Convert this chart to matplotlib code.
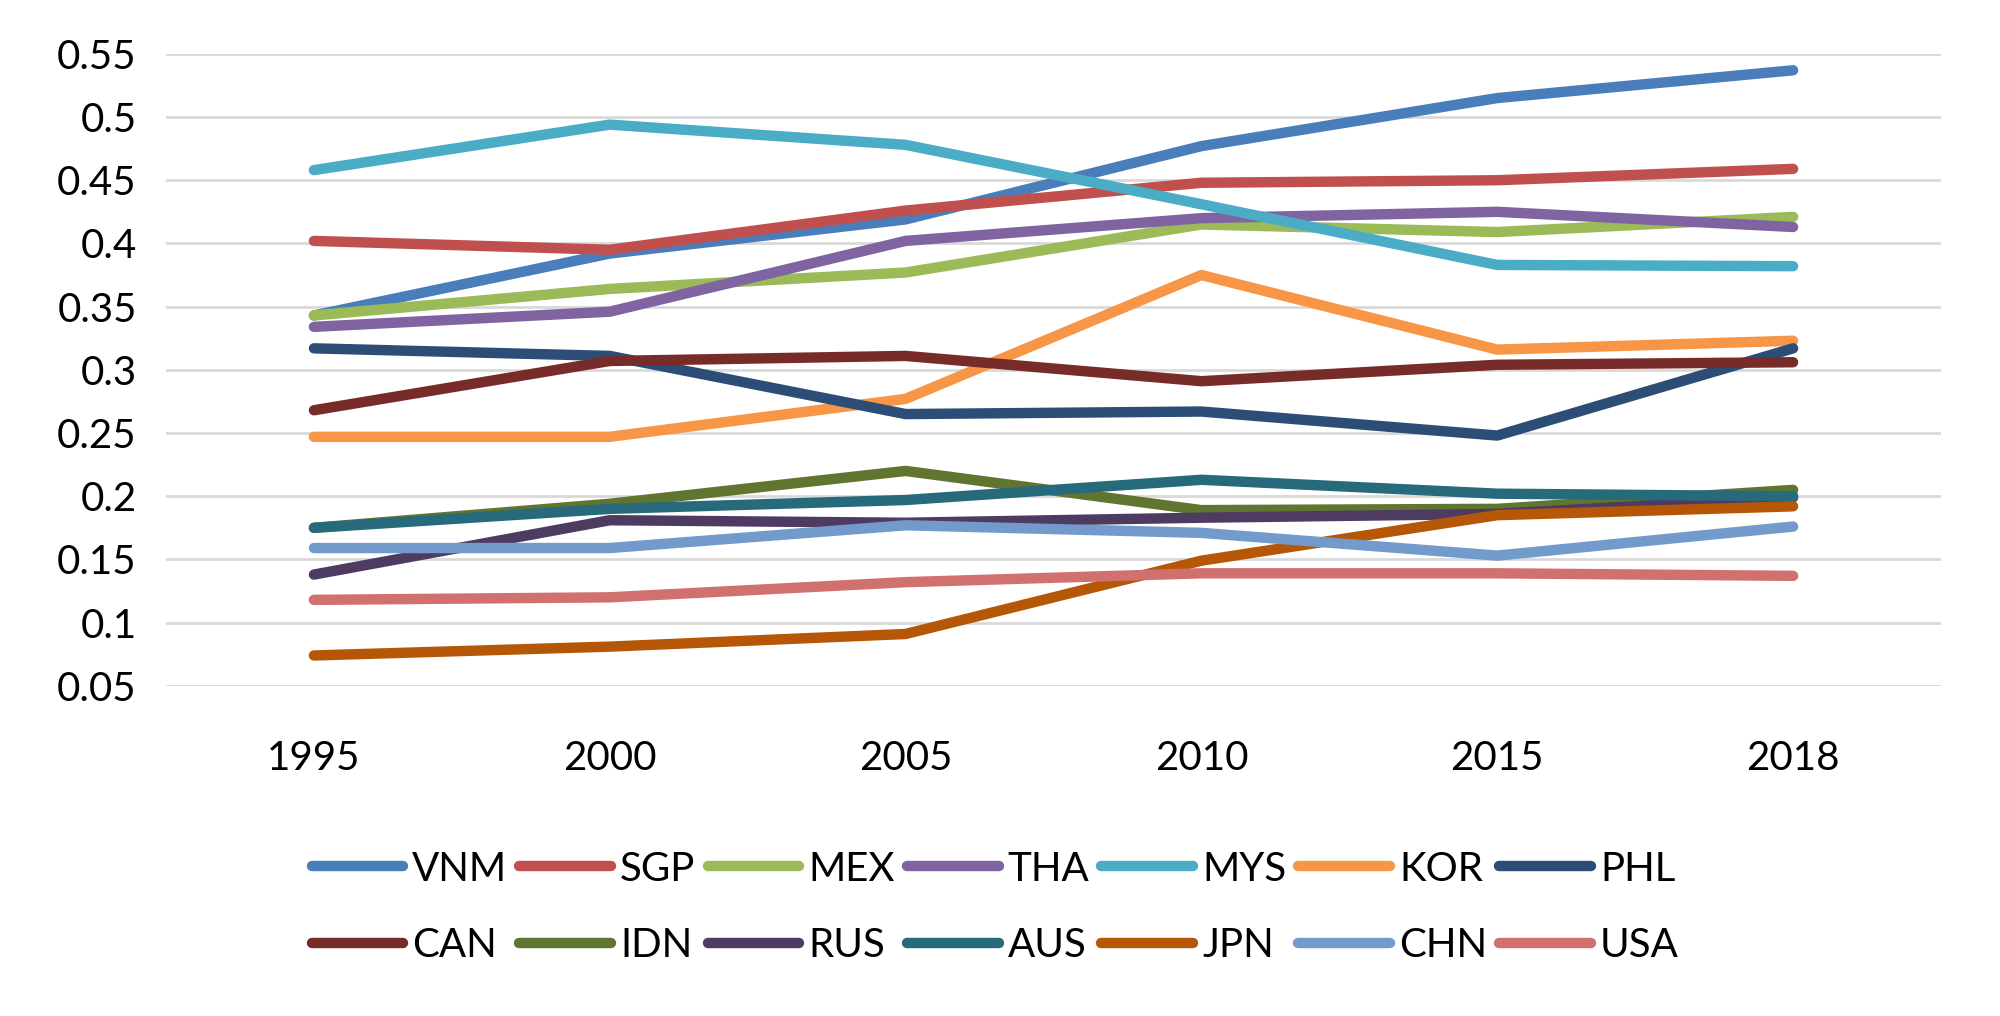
import matplotlib
matplotlib.use("Agg")
import matplotlib.pyplot as plt

years = ["1995", "2000", "2005", "2010", "2015", "2018"]
countries = ["VNM", "SGP", "MEX", "THA", "MYS", "KOR", "PHL",
             "CAN", "IDN", "RUS", "AUS", "JPN", "CHN", "USA"]

vnm = [0.343, 0.392, 0.419, 0.477, 0.515, 0.537]
sgp = [0.402, 0.395, 0.426, 0.448, 0.450, 0.459]
mex = [0.343, 0.364, 0.377, 0.415, 0.409, 0.421]
tha = [0.334, 0.346, 0.402, 0.420, 0.425, 0.413]
mys = [0.458, 0.494, 0.478, 0.431, 0.383, 0.382]
kor = [0.247, 0.247, 0.277, 0.375, 0.316, 0.323]
phl = [0.317, 0.311, 0.265, 0.267, 0.248, 0.317]
can = [0.268, 0.307, 0.311, 0.291, 0.304, 0.306]
idn = [0.175, 0.194, 0.220, 0.189, 0.190, 0.205]
rus = [0.138, 0.181, 0.179, 0.183, 0.186, 0.199]
aus = [0.175, 0.190, 0.197, 0.213, 0.202, 0.200]
jpn = [0.074, 0.081, 0.091, 0.149, 0.185, 0.192]
chn = [0.159, 0.159, 0.177, 0.171, 0.153, 0.176]
usa = [0.118, 0.120, 0.132, 0.139, 0.139, 0.137]

series = [vnm, sgp, mex, tha, mys, kor, phl, can, idn, rus, aus, jpn, chn, usa]
colors = ["#4A7EBB", "#C0504D", "#9BBB59", "#8064A2", "#4BACC6", "#F79646", "#2C4D75",
          "#772C2A", "#5F7530", "#4D3B62", "#276A7C", "#B65708", "#729ACA", "#D0706F"]

plt.rcParams["font.family"] = ["Lato", "DejaVu Sans"]

fig = plt.figure(figsize=(20, 10.16), dpi=100)
ax = fig.add_axes([0.083, 0.325, 0.8875, 0.622])

x = list(range(len(years)))
lines = []
for name, vals, c in zip(countries, series, colors):
    ln, = ax.plot(x, vals, color=c, lw=7.5, solid_capstyle="round", solid_joinstyle="round", label=name)
    lines.append(ln)

ax.set_xlim(-0.5, len(years) - 0.5)
ax.set_ylim(0.05, 0.55)
ax.set_yticks([0.05, 0.1, 0.15, 0.2, 0.25, 0.3, 0.35, 0.4, 0.45, 0.5, 0.55])
ax.set_yticklabels(["0.05", "0.1", "0.15", "0.2", "0.25", "0.3", "0.35", "0.4", "0.45", "0.5", "0.55"])
ax.set_xticks(x)
ax.set_xticklabels(years)
ax.tick_params(axis="both", length=0, labelsize=29)
ax.tick_params(axis="y", pad=21)
ax.tick_params(axis="x", pad=39)
ax.grid(True, axis="y", color="#D9D9D9", lw=2)
ax.set_axisbelow(True)
for s in ax.spines.values():
    s.set_visible(False)

# legend fills column-wise; reorder so it reads row by row like the original
ncol = 7
order = [r * ncol + c for c in range(ncol) for r in range(2)]
fig.legend([lines[i] for i in order], [countries[i] for i in order],
           loc="center", bbox_to_anchor=(0.4976, 0.107), ncol=ncol, frameon=False,
           fontsize=29, handlelength=2.28, handletextpad=0.22, columnspacing=0.3,
           labelspacing=0.98)

fig.savefig("out.png", dpi=100)
